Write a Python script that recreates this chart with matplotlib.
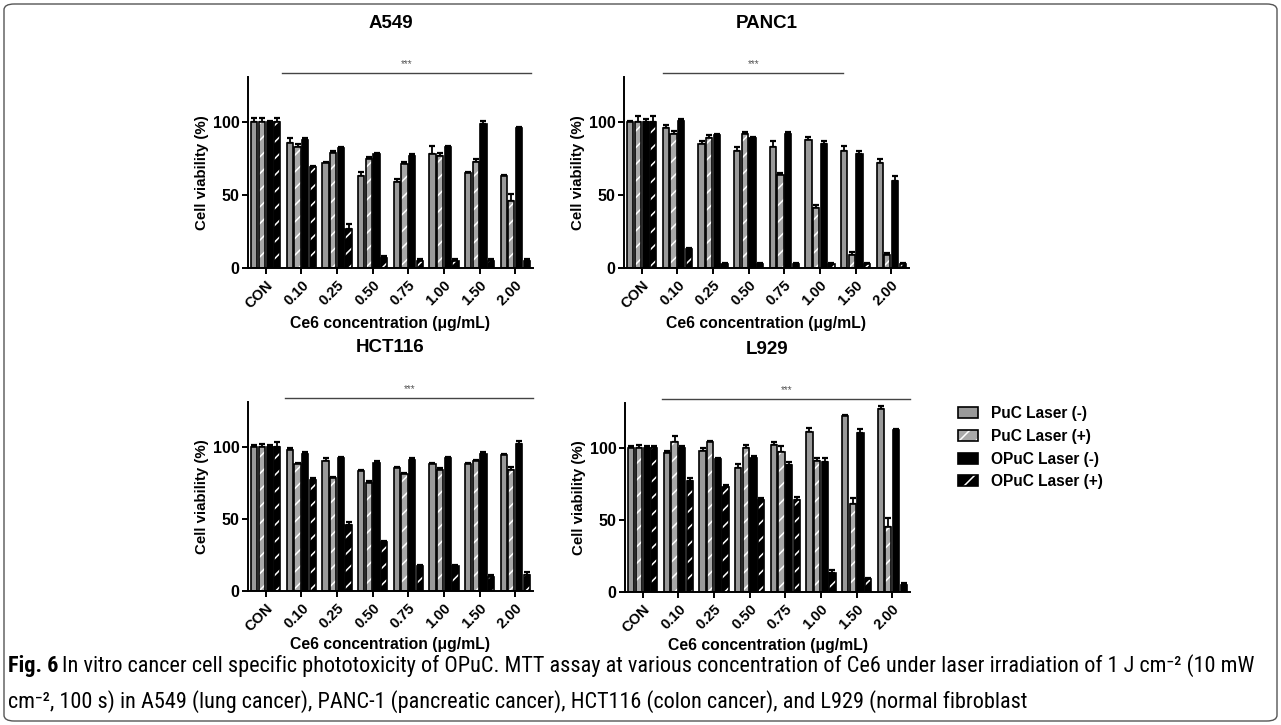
import matplotlib
matplotlib.use("Agg")
import matplotlib.pyplot as plt
import numpy as np
from matplotlib.patches import Patch, FancyBboxPatch
from matplotlib.legend_handler import HandlerTuple

plt.rcParams['font.family'] = ['Liberation Sans', 'DejaVu Sans']
plt.rcParams['hatch.linewidth'] = 1.1

categories = ["CON", "0.10", "0.25", "0.50", "0.75", "1.00", "1.50", "2.00"]
series_names = ["PuC Laser (-)", "PuC Laser (+)", "OPuC Laser (-)", "OPuC Laser (+)"]

# A549
a549_puc_off = [100, 86, 72, 63, 59, 78, 65, 63]
a549_puc_on = [100, 83, 79, 75, 71, 77, 73, 46]
a549_opuc_off = [100, 88, 82, 78, 77, 83, 99, 96]
a549_opuc_on = [100, 69, 27, 7, 5, 5, 5, 5]
a549_err_puc_off = [3, 3, 1, 3, 2, 6, 1, 1]
a549_err_puc_on = [3, 2, 1, 1, 2, 2, 2, 5]
a549_err_opuc_off = [1, 1, 1, 1, 1, 1, 2, 1]
a549_err_opuc_on = [3, 1, 3, 1, 1, 1, 1, 1]

# PANC1
panc1_puc_off = [100, 96, 85, 80, 83, 88, 80, 72]
panc1_puc_on = [100, 92, 89, 92, 64, 41, 9, 9]
panc1_opuc_off = [100, 101, 91, 89, 92, 85, 78, 60]
panc1_opuc_on = [100, 13, 3, 3, 3, 3, 3, 3]
panc1_err_puc_off = [1, 2, 2, 3, 4, 2, 4, 3]
panc1_err_puc_on = [4, 2, 2, 1, 1, 2, 2, 1]
panc1_err_opuc_off = [2, 1, 1, 1, 1, 2, 2, 3]
panc1_err_opuc_on = [4, 1, 0.5, 0.5, 0.5, 0.5, 0.5, 0.5]

# HCT116
hct_puc_off = [100, 98, 90, 83, 85, 88, 88, 94]
hct_puc_on = [100, 88, 78, 75, 81, 84, 90, 84]
hct_opuc_off = [100, 95, 92, 89, 91, 92, 95, 102]
hct_opuc_on = [100, 77, 46, 34, 17, 17, 10, 11]
hct_err_puc_off = [1, 1, 2, 1, 1, 1, 1, 1]
hct_err_puc_on = [2, 1, 1, 1, 1, 1, 1, 2]
hct_err_opuc_off = [1, 1, 1, 1, 1, 1, 1, 2]
hct_err_opuc_on = [3, 1, 2, 1, 1, 1, 1, 2]

# L929
l929_puc_off = [100, 96, 98, 86, 102, 111, 122, 127]
l929_puc_on = [100, 104, 104, 100, 97, 91, 61, 45]
l929_opuc_off = [100, 100, 92, 93, 88, 90, 110, 112]
l929_opuc_on = [100, 77, 73, 64, 64, 13, 9, 5]
l929_err_puc_off = [1, 2, 2, 3, 2, 3, 1, 2]
l929_err_puc_on = [2, 4, 1, 2, 4, 2, 4, 6]
l929_err_opuc_off = [1, 1, 1, 1, 2, 3, 3, 1]
l929_err_opuc_on = [1, 2, 1, 1, 2, 2, 1, 1]

panel_titles = ["A549", "PANC1", "HCT116", "L929"]
sig_text = "***"
# significance line spans (in category units)
sig_spans = [(0.45, 7.45), (0.6, 5.65), (0.55, 7.5), (0.55, 7.5)]

caption_bold = "Fig. 6"
caption_line1 = ("In vitro cancer cell specific phototoxicity of OPuC. MTT assay at various concentration of Ce6 "
                 "under laser irradiation of 1 J cm\u207b\u00b2 (10 mW")
caption_line2 = ("cm\u207b\u00b2, 100 s) in A549 (lung cancer), PANC-1 (pancreatic cancer), HCT116 (colon cancer), "
                 "and L929 (normal fibroblast")

panels = [
    ([a549_puc_off, a549_puc_on, a549_opuc_off, a549_opuc_on],
     [a549_err_puc_off, a549_err_puc_on, a549_err_opuc_off, a549_err_opuc_on]),
    ([panc1_puc_off, panc1_puc_on, panc1_opuc_off, panc1_opuc_on],
     [panc1_err_puc_off, panc1_err_puc_on, panc1_err_opuc_off, panc1_err_opuc_on]),
    ([hct_puc_off, hct_puc_on, hct_opuc_off, hct_opuc_on],
     [hct_err_puc_off, hct_err_puc_on, hct_err_opuc_off, hct_err_opuc_on]),
    ([l929_puc_off, l929_puc_on, l929_opuc_off, l929_opuc_on],
     [l929_err_puc_off, l929_err_puc_on, l929_err_opuc_off, l929_err_opuc_on]),
]

W, H = 1281, 725
fig = plt.figure(figsize=(W / 100, H / 100), dpi=100)

# axes rectangles in pixels: left, top, width, height
rects = [(248, 77, 285, 191), (624, 77, 285, 191), (248, 402, 285, 189), (625, 403, 285, 189)]

fills = ["#9a9a9a", "#a8a8a8", "#000000", "#000000"]
hatches = [None, "//", None, "//"]
step = 0.215
bw = 0.175
x = np.arange(len(categories))

for pi, ((vals, errs), (l, t, w, h)) in enumerate(zip(panels, rects)):
    ax = fig.add_axes([l / W, 1 - (t + h) / H, w / W, h / H])
    for si in range(4):
        xs = x + (si - 1.5) * step
        v = np.array(vals[si], dtype=float)
        e = np.array(errs[si], dtype=float)
        ax.errorbar(xs, v, yerr=[np.zeros_like(e), e], fmt='none', ecolor='black',
                    elinewidth=1.3, capsize=2.2, capthick=1.6, zorder=1)
        if hatches[si]:
            ax.bar(xs, v, width=bw, color=fills[si], edgecolor='white', hatch=hatches[si],
                   linewidth=0, zorder=2)
            ax.bar(xs, v, width=bw, fill=False, edgecolor='black', linewidth=1.2, zorder=3)
        else:
            ax.bar(xs, v, width=bw, color=fills[si], edgecolor='black', linewidth=1.2, zorder=2)
    ax.set_xlim(-0.5, 7.5)
    ax.set_ylim(0, 131)
    ax.set_yticks([0, 50, 100])
    ax.set_xticks(x)
    ax.set_xticklabels(categories, rotation=45, ha='right', rotation_mode='anchor',
                       fontweight='bold', fontsize=10.5)
    for lab in ax.get_yticklabels():
        lab.set_fontweight('bold')
        lab.set_fontsize(11.5)
    ax.spines['top'].set_visible(False)
    ax.spines['right'].set_visible(False)
    ax.spines['left'].set_linewidth(1.4)
    ax.spines['bottom'].set_linewidth(1.4)
    ax.tick_params(axis='both', direction='out', length=4, width=1.4, pad=2)
    ax.tick_params(axis='x', pad=3)
    ax.set_ylabel("Cell viability (%)", fontweight='bold', fontsize=10.8, labelpad=3)
    ax.set_xlabel("Ce6 concentration (\u03bcg/mL)", fontweight='bold', fontsize=11.3,
                  labelpad=4 if pi < 2 else 2.5)
    # significance line
    s0, s1 = sig_spans[pi]
    ax.plot([s0, s1], [133.5, 133.5], color='#444444', lw=1.0, clip_on=False)
    ax.text((s0 + s1) / 2, 136.5, sig_text, ha='center', va='bottom', fontsize=7,
            color='#555555', clip_on=False)
    # title
    fig.text((l + w / 2) / W, 1 - (t - 54) / H, panel_titles[pi], ha='center', va='center',
             fontweight='bold', fontsize=13.5)

# legend
handles = [
    Patch(facecolor=fills[0], edgecolor='black', linewidth=1.2),
    (Patch(facecolor=fills[1], edgecolor='white', hatch='//', linewidth=0),
     Patch(fill=False, edgecolor='black', linewidth=1.2)),
    Patch(facecolor=fills[2], edgecolor='black', linewidth=1.2),
    (Patch(facecolor=fills[3], edgecolor='white', hatch='//', linewidth=0),
     Patch(fill=False, edgecolor='black', linewidth=1.2)),
]
fig.legend(handles, series_names, loc='upper left', bbox_to_anchor=(958 / W, 1 - 406 / H),
           frameon=False, prop={'weight': 'bold', 'size': 11.2}, handlelength=1.3,
           handleheight=0.7, labelspacing=0.5, handletextpad=0.8, borderpad=0,
           borderaxespad=0, handler_map={tuple: HandlerTuple(ndivide=1)})

# caption (condensed face, size fitted so that line 1 spans the figure width)
cap_family = ['Roboto Condensed', 'PT Sans Narrow', 'Archivo Narrow', 'Liberation Sans Narrow',
              'Liberation Sans', 'DejaVu Sans']
fig.canvas.draw()
r = fig.canvas.get_renderer()
fs = 13.0
y1, y2 = 1 - 666 / H, 1 - 702 / H
t1 = fig.text(8 / W, y1, caption_bold, fontweight='bold', fontsize=fs, family=cap_family,
              va='center', ha='left')
t2 = fig.text(0, y1, caption_line1, fontsize=fs, family=cap_family, va='center', ha='left')
b1 = t1.get_window_extent(renderer=r)
b2 = t2.get_window_extent(renderer=r)
scale = (1255 - 8) / (b1.width + 5 + b2.width)
fs = fs * scale
t1.set_fontsize(fs)
t2.set_fontsize(fs)
b1 = t1.get_window_extent(renderer=r)
t2.set_x((b1.x1 + 4) / W)
fig.text(8 / W, y2, caption_line2, fontsize=fs, family=cap_family, va='center', ha='left')

# frame
frame = FancyBboxPatch((4 / W, 4 / H), 1 - 8 / W, 1 - 8 / H,
                       boxstyle="round,pad=0,rounding_size=0.008",
                       transform=fig.transFigure, fill=False, edgecolor='#555555', linewidth=1.0)
fig.patches.append(frame)

fig.savefig("out.png", dpi=100)
